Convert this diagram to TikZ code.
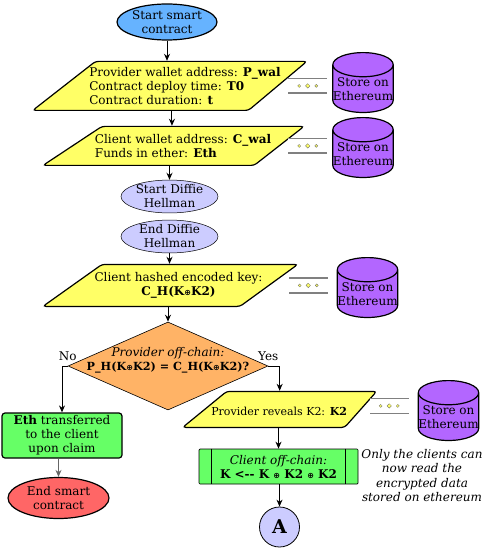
\documentclass[tikz,border=0pt]{standalone}
\usepackage{fontspec}
\setmainfont{DejaVu Serif}
\newfontfamily\symfont{DejaVu Sans}
\usetikzlibrary{
  arrows.meta,
  positioning,
  shapes.geometric,
}
\definecolor{startblue}{RGB}{102,179,255}
\definecolor{ioyellow}{RGB}{255,255,102}
\definecolor{storepurple}{RGB}{179,102,255}
\definecolor{dhlavender}{RGB}{204,204,255}
\definecolor{decorange}{RGB}{255,179,102}
\definecolor{procgreen}{RGB}{102,255,102}
\definecolor{endred}{RGB}{255,102,102}
\newcommand{\xor}{{\symfont\fontsize{8}{8}\selectfont ⊕}}
\tikzset{
  arrow/.style={-{Stealth[length=7pt,width=6pt]}, line width=1pt},
  startstop/.style={ellipse, draw, line width=1.2pt, inner sep=0pt, align=center},
  dhstep/.style={ellipse, draw, line width=0.5pt, fill=dhlavender, minimum width=97pt, minimum height=30pt, inner sep=0pt, align=center},
  io/.style={trapezium, draw, line width=1.2pt, fill=ioyellow, rounded corners=3pt, anchor=bottom left corner},
  store/.style={cylinder, shape border rotate=90, aspect=0.4, draw, line width=1.2pt, fill=storepurple, minimum width=60pt, minimum height=59pt, inner sep=0pt, align=center, anchor=north},
  link/.style={draw=gray, line width=1.6pt, double=white, double distance=13.2pt},
  linkdot/.style={circle, draw=black!60, line width=0.3pt, fill=ioyellow, inner sep=0pt, minimum size=3pt},
  linkdia/.style={diamond, draw=black!60, line width=0.3pt, fill=ioyellow, inner sep=0pt, minimum size=4.5pt},
  decision/.style={diamond, draw, line width=0.6pt, fill=decorange, inner sep=0pt, minimum width=200pt, minimum height=88pt},
  process/.style={rectangle, rounded corners=3pt, draw, line width=1.2pt, fill=procgreen, align=center, minimum width=120pt, minimum height=45pt, inner sep=0pt},
  predef/.style={rectangle, draw, line width=0.7pt, fill=procgreen, rounded corners=1pt, minimum width=159pt, minimum height=35pt, inner sep=0pt, align=center},
  connector/.style={circle, draw, line width=0.8pt, fill=dhlavender, minimum size=40pt, inner sep=0pt},
}

\begin{document}
\begin{tikzpicture}[x=1pt, y=-1pt, font=\fontsize{12}{14}\selectfont]
  \useasboundingbox (0,0) rectangle (489,548);

  % main column
  \node[startstop, fill=startblue, minimum width=100pt, minimum height=36pt] (start) at (167,22) {Start smart\\contract};
  \node[io, trapezium left angle=38, trapezium right angle=140, inner xsep=76.5pt, inner ysep=24.5pt,
        label={[align=left, xshift=13pt]center:{Provider wallet address: \textbf{P\_wal}\\Contract deploy time: \textbf{T0}\\Contract duration: \textbf{t}}}] (p1) at (31,111) {};
  \node[io, trapezium left angle=33.5, trapezium right angle=142, inner xsep=76.1pt, inner ysep=19.5pt,
        label={[align=left, xshift=5pt]center:{Client wallet address: \textbf{C\_wal}\\Funds in ether: \textbf{Eth}}}] (p2) at (41,166) {};
  \node[dhstep] (dh1) at (169.5,196.5) {Start Diffie\\Hellman};
  \node[dhstep] (dh2) at (169.5,236.5) {End Diffie\\Hellman};
  \node[io, trapezium left angle=35.4, trapezium right angle=144, inner xsep=69pt, inner ysep=21pt,
        label={[align=center, xshift=7.5pt]center:{Client hashed encoded key:\\\textbf{C\_H(K\xor K2)}}}] (p3) at (41,307) {};
  \node[decision, label={[align=center, yshift=6pt]center:{\textit{Provider off-chain:}\\\fontsize{11.2}{14}\selectfont\textbf{P\_H(K\xor K2) = C\_H(K\xor K2)?}}}] (dec) at (168,366) {};

  % no branch
  \node[process] (g) at (62,435.5) {\textbf{Eth} transferred\\to the client\\upon claim};
  \node[startstop, fill=endred, minimum width=101pt, minimum height=41pt] (end) at (58.5,498) {End smart\\contract};

  % yes branch
  \node[io, trapezium left angle=39.3, trapezium right angle=131.6, inner xsep=59pt, inner ysep=18pt,
        label={[align=center, xshift=-6.5pt, yshift=-1.5pt]center:{\fontsize{11}{14}\selectfont Provider reveals K2: \textbf{K2}}}] (p4) at (181,428) {};
  \node[predef] (pp) at (278.5,466.5) {\textit{Client off-chain:}\\\textbf{K <-{}- K \xor{} K2 \xor{} K2}};
  \draw[line width=0.7pt] ([xshift=13pt]pp.north west) -- ([xshift=13pt]pp.south west);
  \draw[line width=0.7pt] ([xshift=-13pt]pp.north east) -- ([xshift=-13pt]pp.south east);
  \node[connector, font=\fontsize{19}{19}\selectfont\bfseries] (A) at (279.5,527) {A};
  \node[align=center, font=\fontsize{12}{14.3}\selectfont\itshape] (note) at (422,475.5) {Only the clients can\\now read the\\encrypted data\\stored on ethereum};

  % storage
  \node[store] (s1) at (363,52) {Store on\\Ethereum};
  \node[store] (s2) at (363,117) {Store on\\Ethereum};
  \node[store] (s3) at (367.5,257) {Store on\\Ethereum};
  \node[store] (s4) at (448.5,380) {Store on\\Ethereum};

  \draw[link] ([xshift=-5pt]s1.west |- p1) -- ++(-39,0)
    node[linkdot, pos=0.28] {} node[linkdia, pos=0.5] {} node[linkdot, pos=0.72] {};
  \draw[link] ([xshift=-5pt]s2.west |- p2) -- ++(-39,0)
    node[linkdot, pos=0.28] {} node[linkdia, pos=0.5] {} node[linkdot, pos=0.72] {};
  \draw[link] ([xshift=-9pt]s3.west |- p3) -- ++(-39,0)
    node[linkdot, pos=0.28] {} node[linkdia, pos=0.5] {} node[linkdot, pos=0.72] {};
  \draw[link] ([xshift=-9pt, yshift=3.5pt]s4.west |- p4) -- ++(-39,0)
    node[linkdot, pos=0.28] {} node[linkdia, pos=0.5] {} node[linkdot, pos=0.72] {};

  % flow
  \draw[arrow] (start) -- (start |- p1.north);
  \draw[arrow] (p1.south) -- (p1.south |- p2.north);
  \draw[arrow] (dh1 |- p2.south) -- (dh1);
  \draw[arrow] (dh2) -- (dh2 |- p3.north);
  \draw[arrow] (dec |- p3.south) -- (dec);
  \draw[arrow] (dec.west) -| node[at start, above, yshift=2pt] {No} (g.north);
  \draw[arrow] (dec.east) -| node[at start, above, yshift=2pt] {Yes} ([xshift=-6pt]p4.north);
  \draw[arrow, draw=black!60] (end |- g.south) -- (end);
  \draw[arrow] (pp |- p4.south) -- (pp);
  \draw[arrow] (A |- pp.south) -- (A);
\end{tikzpicture}
\end{document}
